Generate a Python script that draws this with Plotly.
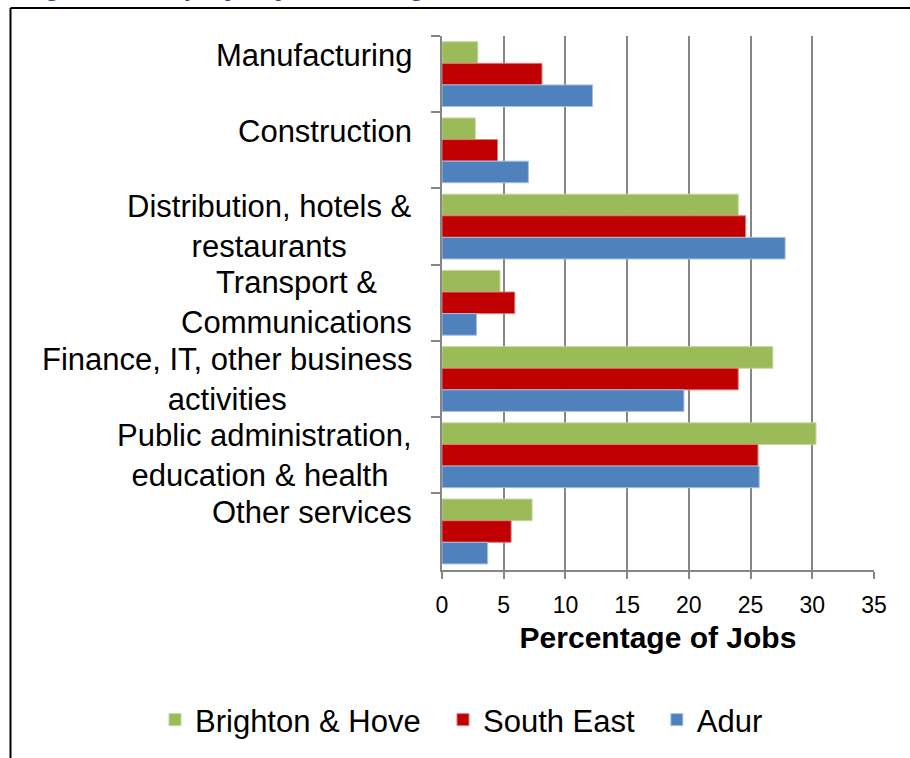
import plotly.graph_objects as go

# Employee jobs by broad industry group (% of jobs)
categories = [
    "Manufacturing",
    "Construction",
    "Distribution, hotels &<br>restaurants",
    "Transport &<br>Communications",
    "Finance, IT, other business<br>activities",
    "Public administration,<br>education & health ",
    "Other services",
]
brighton_hove = [2.9, 2.7, 24.0, 4.7, 26.8, 30.3, 7.3]
south_east = [8.1, 4.5, 24.6, 5.9, 24.0, 25.6, 5.6]
adur = [12.2, 7.0, 27.8, 2.8, 19.6, 25.7, 3.7]

series = [
    ("Brighton & Hove", brighton_hove, "#9BBB59", "#C3D69B"),
    ("South East", south_east, "#C00000", "#E07A7A"),
    ("Adur", adur, "#4F81BD", "#A7C0DE"),
]

x_ticks = [0, 5, 10, 15, 20, 25, 30, 35]

FONT = "Liberation Sans, Arial, sans-serif"
GRID = "#868686"
NBSP = "\u00a0"

# plot-area geometry in pixels, used to place paper-referenced items
L, R, T, B = 442, 874, 36, 571
W, H = R - L, B - T


def px_x(x):
    return (x - L) / W


def px_y(y):
    return (B - y) / H


fig = go.Figure()
for name, vals, color, edge in series:
    fig.add_trace(go.Bar(
        y=categories, x=vals, orientation="h",
        name=name + NBSP * 2,
        marker=dict(color=color, line=dict(color=edge, width=1)),
    ))

# Category labels drawn as annotations so multi-line text is centred
for cat in categories:
    single = "<br>" not in cat
    fig.add_annotation(
        x=0, xref="paper", xanchor="right", xshift=-28,
        y=cat, yref="y", yanchor="middle", yshift=19 if single else 0,
        text=cat, showarrow=False, align="center",
        font=dict(family=FONT, size=31, color="black"),
    )

# Figure caption along the top edge (it sits mostly above the page)
fig.add_annotation(
    x=px_x(18), xref="paper", xanchor="left",
    y=px_y(3), yref="paper", yanchor="bottom",
    text="<b>Figure 6: Employee jobs in Brighton & Hove and Adur</b>",
    showarrow=False, font=dict(family=FONT, size=27, color="#1F4E8C"),
)

# Chart frame (left and top edges)
fx, fy = px_x(10.5), px_y(8)
fig.add_shape(type="line", xref="paper", yref="paper",
              x0=fx, x1=fx, y0=-0.5, y1=fy,
              line=dict(color="black", width=2))
fig.add_shape(type="line", xref="paper", yref="paper",
              x0=fx, x1=1.2, y0=fy, y1=fy,
              line=dict(color="black", width=2))

fig.update_layout(
    width=910, height=758,
    margin=dict(l=L, r=910 - R, t=T, b=758 - B),
    paper_bgcolor="white", plot_bgcolor="white",
    barmode="group", bargap=0.15, bargroupgap=0,
    font=dict(family=FONT, color="black"),
    showlegend=True,
    legend=dict(
        orientation="h", x=px_x(155), xanchor="left",
        y=px_y(720), yanchor="middle",
        font=dict(family=FONT, size=31, color="black"),
        itemwidth=30, traceorder="normal",
    ),
    xaxis=dict(
        range=[0, 35], tickvals=x_ticks,
        showgrid=True, gridcolor=GRID, gridwidth=2,
        showline=True, linecolor=GRID, linewidth=2,
        ticks="outside", ticklen=7, tickcolor=GRID, tickwidth=2,
        tickfont=dict(family=FONT, size=23, color="black"),
        ticklabelstandoff=6,
        zeroline=False,
        title=dict(text="<b>Percentage of Jobs</b>",
                   font=dict(family=FONT, size=30, color="black"),
                   standoff=10),
    ),
    yaxis=dict(
        type="category", autorange="reversed",
        showticklabels=False, showgrid=False,
        showline=True, linecolor=GRID, linewidth=2,
        ticks="outside", tickson="boundaries", ticklen=9,
        tickcolor=GRID, tickwidth=2,
    ),
)

fig.write_html("out.html")
